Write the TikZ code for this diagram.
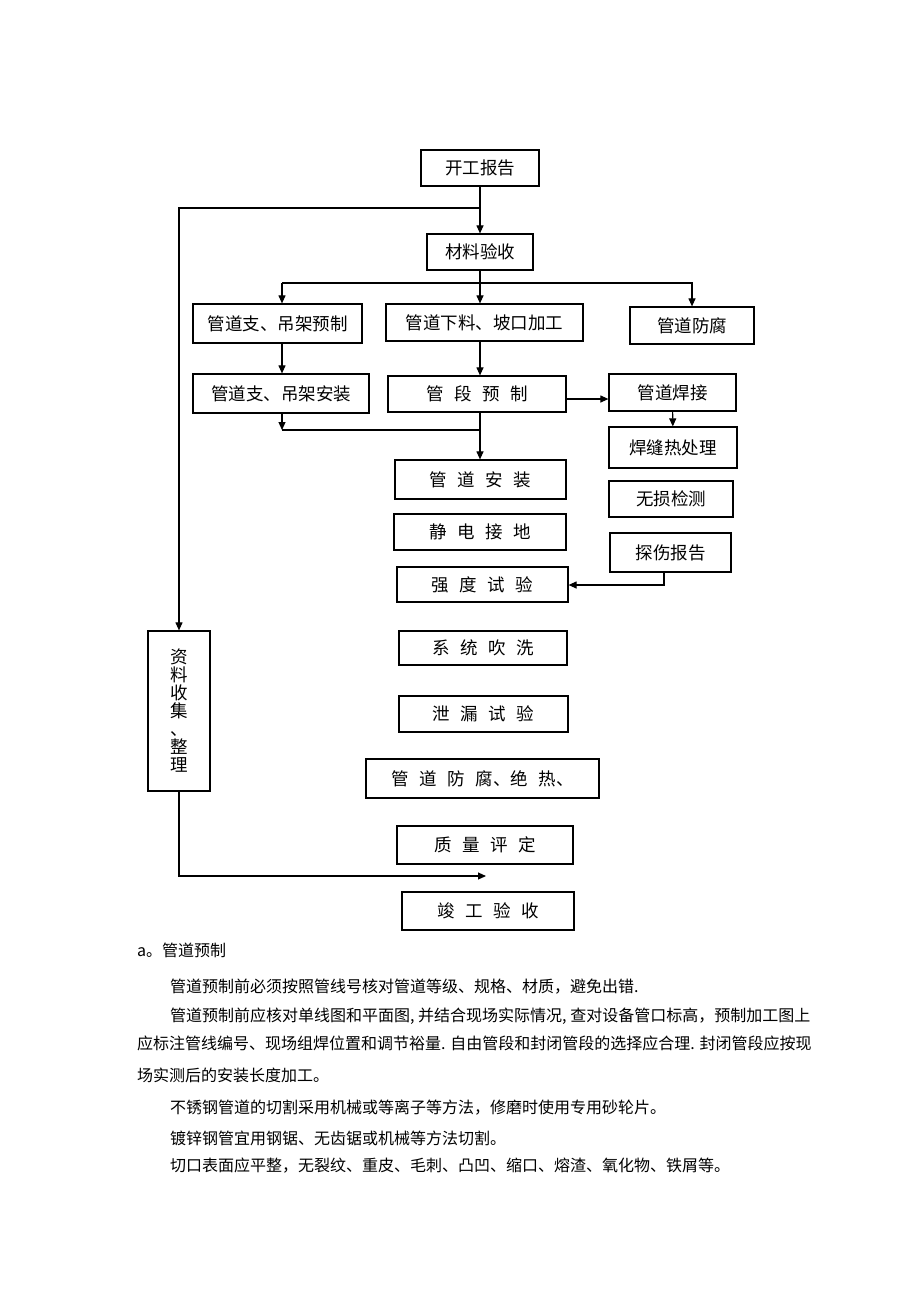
\documentclass[tikz,border=0pt]{standalone}
\usepackage{fontspec}
\setmainfont{Noto Sans CJK SC}
\usetikzlibrary{arrows.meta}
\tikzset{box/.style={draw, line width=1.2pt, inner sep=0pt, font=\fontsize{17.5}{18}\selectfont},
  arr/.style={-{Triangle[length=8pt,width=7pt]}, line width=1.1pt},
  ln/.style={line width=1.1pt},
  para/.style={anchor=west, inner sep=0pt, font=\fontsize{16}{18}\selectfont}}
\newcommand{\gp}{\hspace{0.6em}}

\begin{document}
\begin{tikzpicture}[x=1pt, y=-1pt]
\useasboundingbox (0,0) rectangle (920,1302);
\node[box, minimum width=118, minimum height=36] (kaigong) at (480,168) {开工报告};
\node[box, minimum width=106, minimum height=36] (cailiao) at (480,252) {材料验收};
\node[box, minimum width=169, minimum height=39] (zhiyz) at (277.5,323.5) {管道支、吊架预制};
\node[box, minimum width=197, minimum height=37] (xialiao) at (484.5,322.5) {管道下料、坡口加工};
\node[box, minimum width=124, minimum height=37] (fangfu) at (692,325.5) {管道防腐};
\node[box, minimum width=176, minimum height=39] (zhiaz) at (281,393.5) {管道支、吊架安装};
\node[box, minimum width=178, minimum height=36] (duan) at (477,394) {管\gp 段\gp 预\gp 制};
\node[box, minimum width=127, minimum height=37] (hanjie) at (672.5,392.5) {管道焊接};
\node[box, minimum width=128, minimum height=41] (hanfeng) at (673,447.5) {焊缝热处理};
\node[box, minimum width=124, minimum height=36] (wusun) at (671,499) {无损检测};
\node[box, minimum width=121, minimum height=39] (tanshang) at (670.5,552.5) {探伤报告};
\node[box, minimum width=171, minimum height=39] (anzhuang) at (480.5,479.5) {管\gp 道\gp 安\gp 装};
\node[box, minimum width=172, minimum height=36] (jingdian) at (480,532) {静\gp 电\gp 接\gp 地};
\node[box, minimum width=171, minimum height=35] (qiangdu) at (482.5,584.5) {强\gp 度\gp 试\gp 验};
\node[box, minimum width=168, minimum height=34] (chuixi) at (483,648) {系\gp 统\gp 吹\gp 洗};
\node[box, minimum width=169, minimum height=36] (xielou) at (483.5,714) {泄\gp 漏\gp 试\gp 验};
\node[box, minimum width=233, minimum height=39] (juere) at (482.5,778.5) {管\gp 道\gp 防\gp 腐、绝\gp 热、};
\node[box, minimum width=176, minimum height=38] (zhiliang) at (485,845) {质\gp 量\gp 评\gp 定};
\node[box, minimum width=172, minimum height=38] (jungong) at (488,911) {竣\gp 工\gp 验\gp 收};
\node[box, minimum width=62, minimum height=160, align=center] (ziliao) at (179,711) {资\\料\\收\\集\\、\\整\\理};

\coordinate (j1) at (480,208);
\coordinate (b0) at (282,283);
\coordinate (b1) at (480,283);
\coordinate (b2) at (480,430);
\coordinate (t1) at (664,585);
\coordinate (z1) at (179,876);
\coordinate (z2) at (486,876);
\draw[arr] (kaigong) -- (cailiao);
\draw[arr] (j1) -| (ziliao);
\draw[ln] (cailiao) -- (b1);
\draw[ln] (b0) -- (b1);
\draw[arr] (b0) -- (b0 |- zhiyz.north);
\draw[arr] (b1) -- (xialiao.north -| b1);
\draw[arr] (b1) -| (fangfu);
\draw[arr] (zhiyz.south -| b0) -- (zhiaz.north -| b0);
\draw[arr] (xialiao.south -| b1) -- (duan.north -| b1);
\draw[arr] ([yshift=-5pt]duan.east) -- ([yshift=-5pt]duan.east -| hanjie.west);
\draw[arr] (hanjie) -- (hanfeng);
\draw[arr] (zhiaz.south -| b0) -- (b0 |- b2);
\draw[ln] (b0 |- b2) -- (b2);
\draw[arr] (duan.south -| b1) -- (anzhuang.north -| b1);
\draw[arr] (tanshang.south -| t1) -- (t1) -- (qiangdu.east |- t1);
\draw[arr] (ziliao) -- (z1) -- (z2);

\node[para] (pa) at (137,950) {a。管道预制};
\node[para] (p1) at (170,987) {管道预制前必须按照管线号核对管道等级、规格、材质，避免出错.};
\node[para] (p2) at (170,1016) {管道预制前应核对单线图和平面图, 并结合现场实际情况, 查对设备管口标高，预制加工图上};
\node[para] (p3) at (137,1043) {应标注管线编号、现场组焊位置和调节裕量. 自由管段和封闭管段的选择应合理. 封闭管段应按现};
\node[para] (p4) at (137,1075) {场实测后的安装长度加工。};
\node[para] (p5) at (170,1108) {不锈钢管道的切割采用机械或等离子等方法，修磨时使用专用砂轮片。};
\node[para] (p6) at (170,1138) {镀锌钢管宜用钢锯、无齿锯或机械等方法切割。};
\node[para] (p7) at (170,1166) {切口表面应平整，无裂纹、重皮、毛刺、凸凹、缩口、熔渣、氧化物、铁屑等。};
\end{tikzpicture}
\end{document}
